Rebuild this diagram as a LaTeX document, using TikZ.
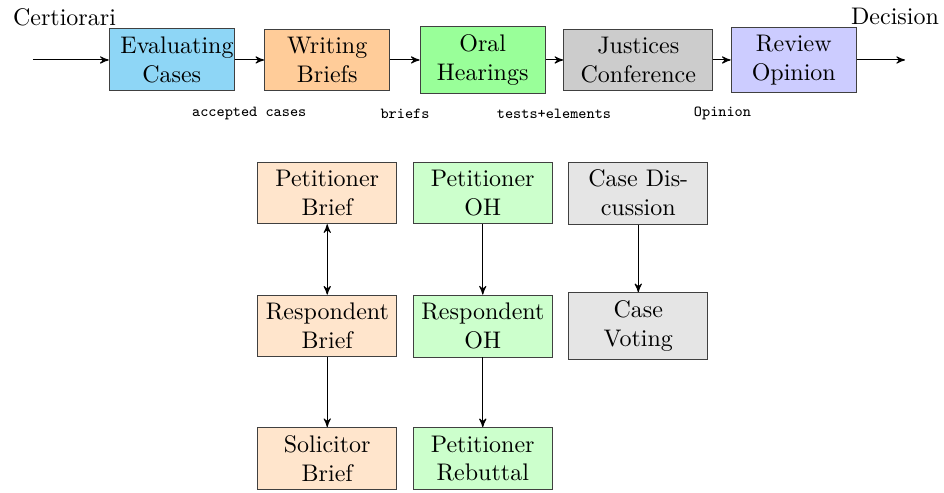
\documentclass[tikz,border=0pt]{standalone}
\usepackage{tikz}
\usepackage{xcolor}
\usetikzlibrary{arrows, positioning}

\definecolor{evalblue}{RGB}{142,214,246}

\tikzset{
    block/.style={draw=black!75, align=center, text width=1.6cm},
    subblock/.style={draw=black!75, align=center, text width=1.8cm},
    edgelbl/.style={font=\fontsize{6.4}{7}\selectfont\ttfamily}
}

\begin{document}
\begin{tikzpicture}[>=stealth']
                        \useasboundingbox (0, 0) rectangle (13.821, -7.204);
                        \coordinate (in) at (0.483, -0.878);
                        \coordinate (out) at (13.25, -0.878);
                        \node[] (cert) at (0.944, -0.246) {Certiorari};
                        \node[] (dec) at (13.104, -0.246) {Decision};
                        \node[block, fill=evalblue, text width=1.5cm, inner xsep=4.7pt] (eval) at (2.514, -0.878) {Evaluating Cases};
                        \node[block, fill=orange!40] (write) at (4.791, -0.878) {Writing Briefs};
                        \node[block, fill=green!40] (oral) at (7.068, -0.878) {Oral Hearings};
                        \node[block, fill=black!20, text width=1.95cm] (conf) at (9.345, -0.878) {Justices Conference};
                        \node[block, fill=blue!20] (review) at (11.622, -0.878) {Review Opinion};
                        \node[edgelbl] (l1) at (3.649, -1.66) {accepted cases};
                        \node[edgelbl] (l2) at (5.93, -1.66) {briefs};
                        \node[edgelbl] (l3) at (8.111, -1.66) {tests+elements};
                        \node[edgelbl] (l4) at (10.578, -1.66) {Opinion};
                        \node[subblock, fill=orange!20] (pb) at (4.791, -2.826) {Petitioner Brief};
                        \node[subblock, fill=orange!20] (rb) at (4.791, -4.773) {Respondent Brief};
                        \node[subblock, fill=orange!20] (sb) at (4.791, -6.713) {Solicitor Brief};
                        \node[subblock, fill=green!20] (poh) at (7.068, -2.826) {Petitioner OH};
                        \node[subblock, fill=green!20] (roh) at (7.068, -4.773) {Respondent OH};
                        \node[subblock, fill=green!20] (preb) at (7.068, -6.713) {Petitioner Rebuttal};
                        \node[subblock, fill=black!10] (cd) at (9.345, -2.826) {Case Dis-\\cussion};
                        \node[subblock, fill=black!10] (cv) at (9.345, -4.773) {Case Voting};
                        \draw[->] (in) -- (eval);
                        \draw[->] (eval) -- (write);
                        \draw[->] (write) -- (oral);
                        \draw[->] (oral) -- (conf);
                        \draw[->] (conf) -- (review);
                        \draw[->] (review) -- (out);
                        \draw[<->] (pb) -- (rb);
                        \draw[->] (rb) -- (sb);
                        \draw[->] (poh) -- (roh);
                        \draw[->] (roh) -- (preb);
                        \draw[->] (cd) -- (cv);
                    \end{tikzpicture}
\end{document}
